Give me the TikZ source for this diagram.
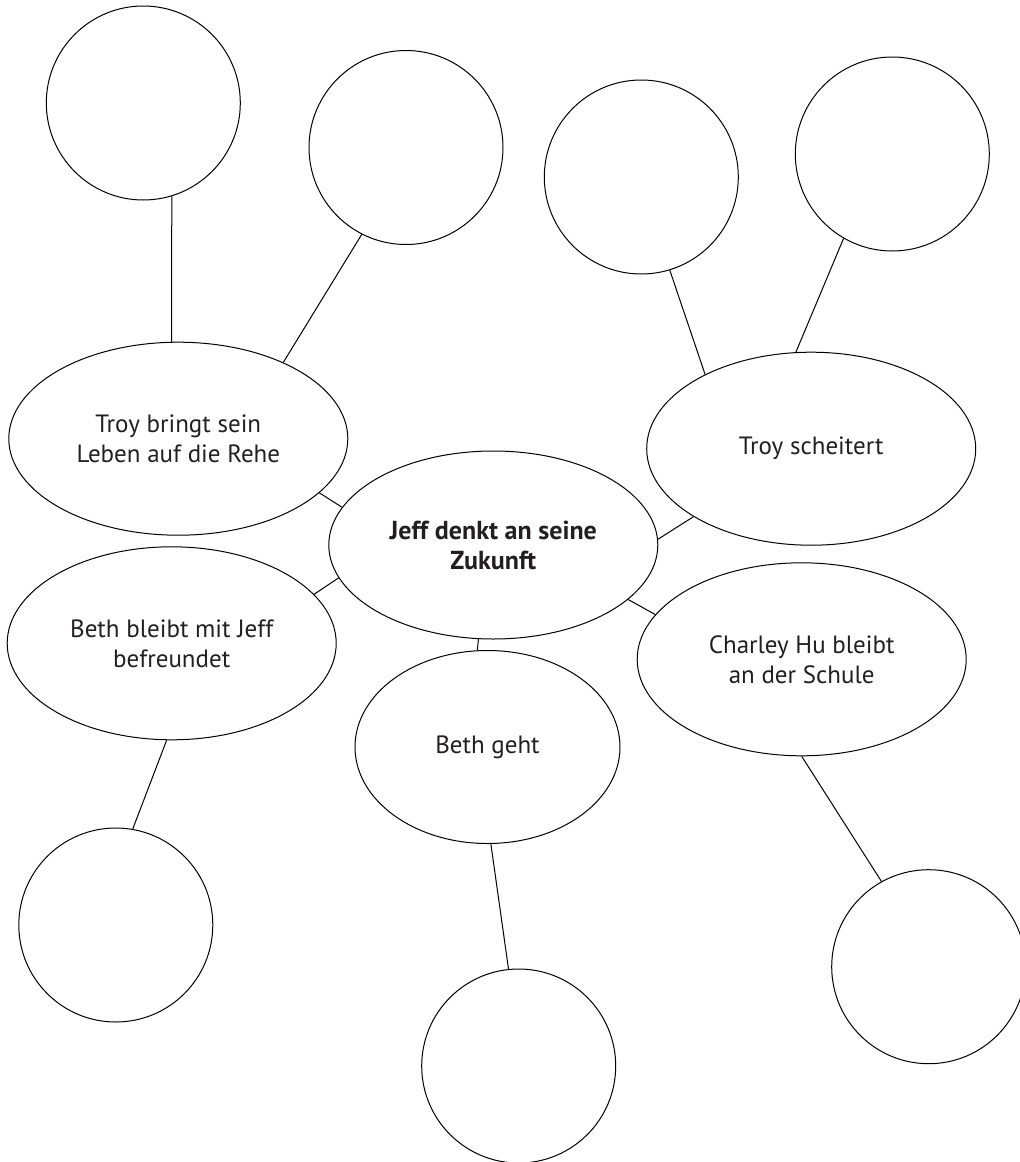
\documentclass[tikz,border=0pt]{standalone}
\usepackage{fontspec}
\setmainfont{PT Sans}
\usetikzlibrary{shapes.geometric}
\definecolor{textgrau}{HTML}{231F20}
\begin{document}
\begin{tikzpicture}[x=1pt,y=-1pt,
	rund/.style={circle,draw,line width=1pt,inner sep=0pt,minimum size=194pt},
	oval/.style={ellipse,draw,line width=1pt,inner sep=0pt,minimum width=329pt,minimum height=193pt,
		align=center,text=textgrau,font=\fontsize{25}{30}\selectfont},
	verb/.style={line width=1pt}]
	\useasboundingbox(0,0)rectangle(1020,1162);
	% leere Kreise
	\node[rund](k1)at(143.3,103){};
	\node[rund](k2)at(406,147.5){};
	\node[rund](k3)at(641.3,177){};
	\node[rund](k4)at(892.3,154){};
	\node[rund](k5)at(115.8,925){};
	\node[rund](k6)at(518.7,1066){};
	\node[rund](k7)at(928.7,966.7){};
	% Ellipsen
	\node[oval,minimum height=188pt,font=\fontsize{26}{30}\selectfont\bfseries](J)at(493.3,545){Jeff denkt an seine\\Zukunft};
	\node[oval,minimum width=339pt](TL)at(178.3,438.7){Troy bringt sein\\Leben auf die Rehe};
	\node[oval](TS)at(811.2,448.7){Troy scheitert};
	\node[oval](BB)at(171.7,643.3){Beth bleibt mit Jeff\\befreundet};
	\node[oval](CH)at(801.7,659.3){Charley Hu bleibt\\an der Schule};
	\node[oval,minimum width=265pt](BG)at(487.5,747){Beth geht};
	% Verbindungen
	\draw[verb](k1.-73)--(TL.94);
	\draw[verb](k2.-117)--(TL.36.5);
	\draw[verb](k3.-73)--(TS.145);
	\draw[verb](k4.-120)--(TS.99.5);
	\draw[verb](TL.-21)--(J.166);
	\draw[verb](J.2)--(TS.-150);
	\draw[verb](J.-168)--(BB.19.5);
	\draw[verb](J.-22.5)--(CH.163.6);
	\draw[verb](J.-99)--(BG.96);
	\draw[verb](BB.-93)--(k5.80);
	\draw[verb](BG.-88)--(k6.96);
	\draw[verb](CH.-90)--(k7.119);
\end{tikzpicture}
\end{document}
